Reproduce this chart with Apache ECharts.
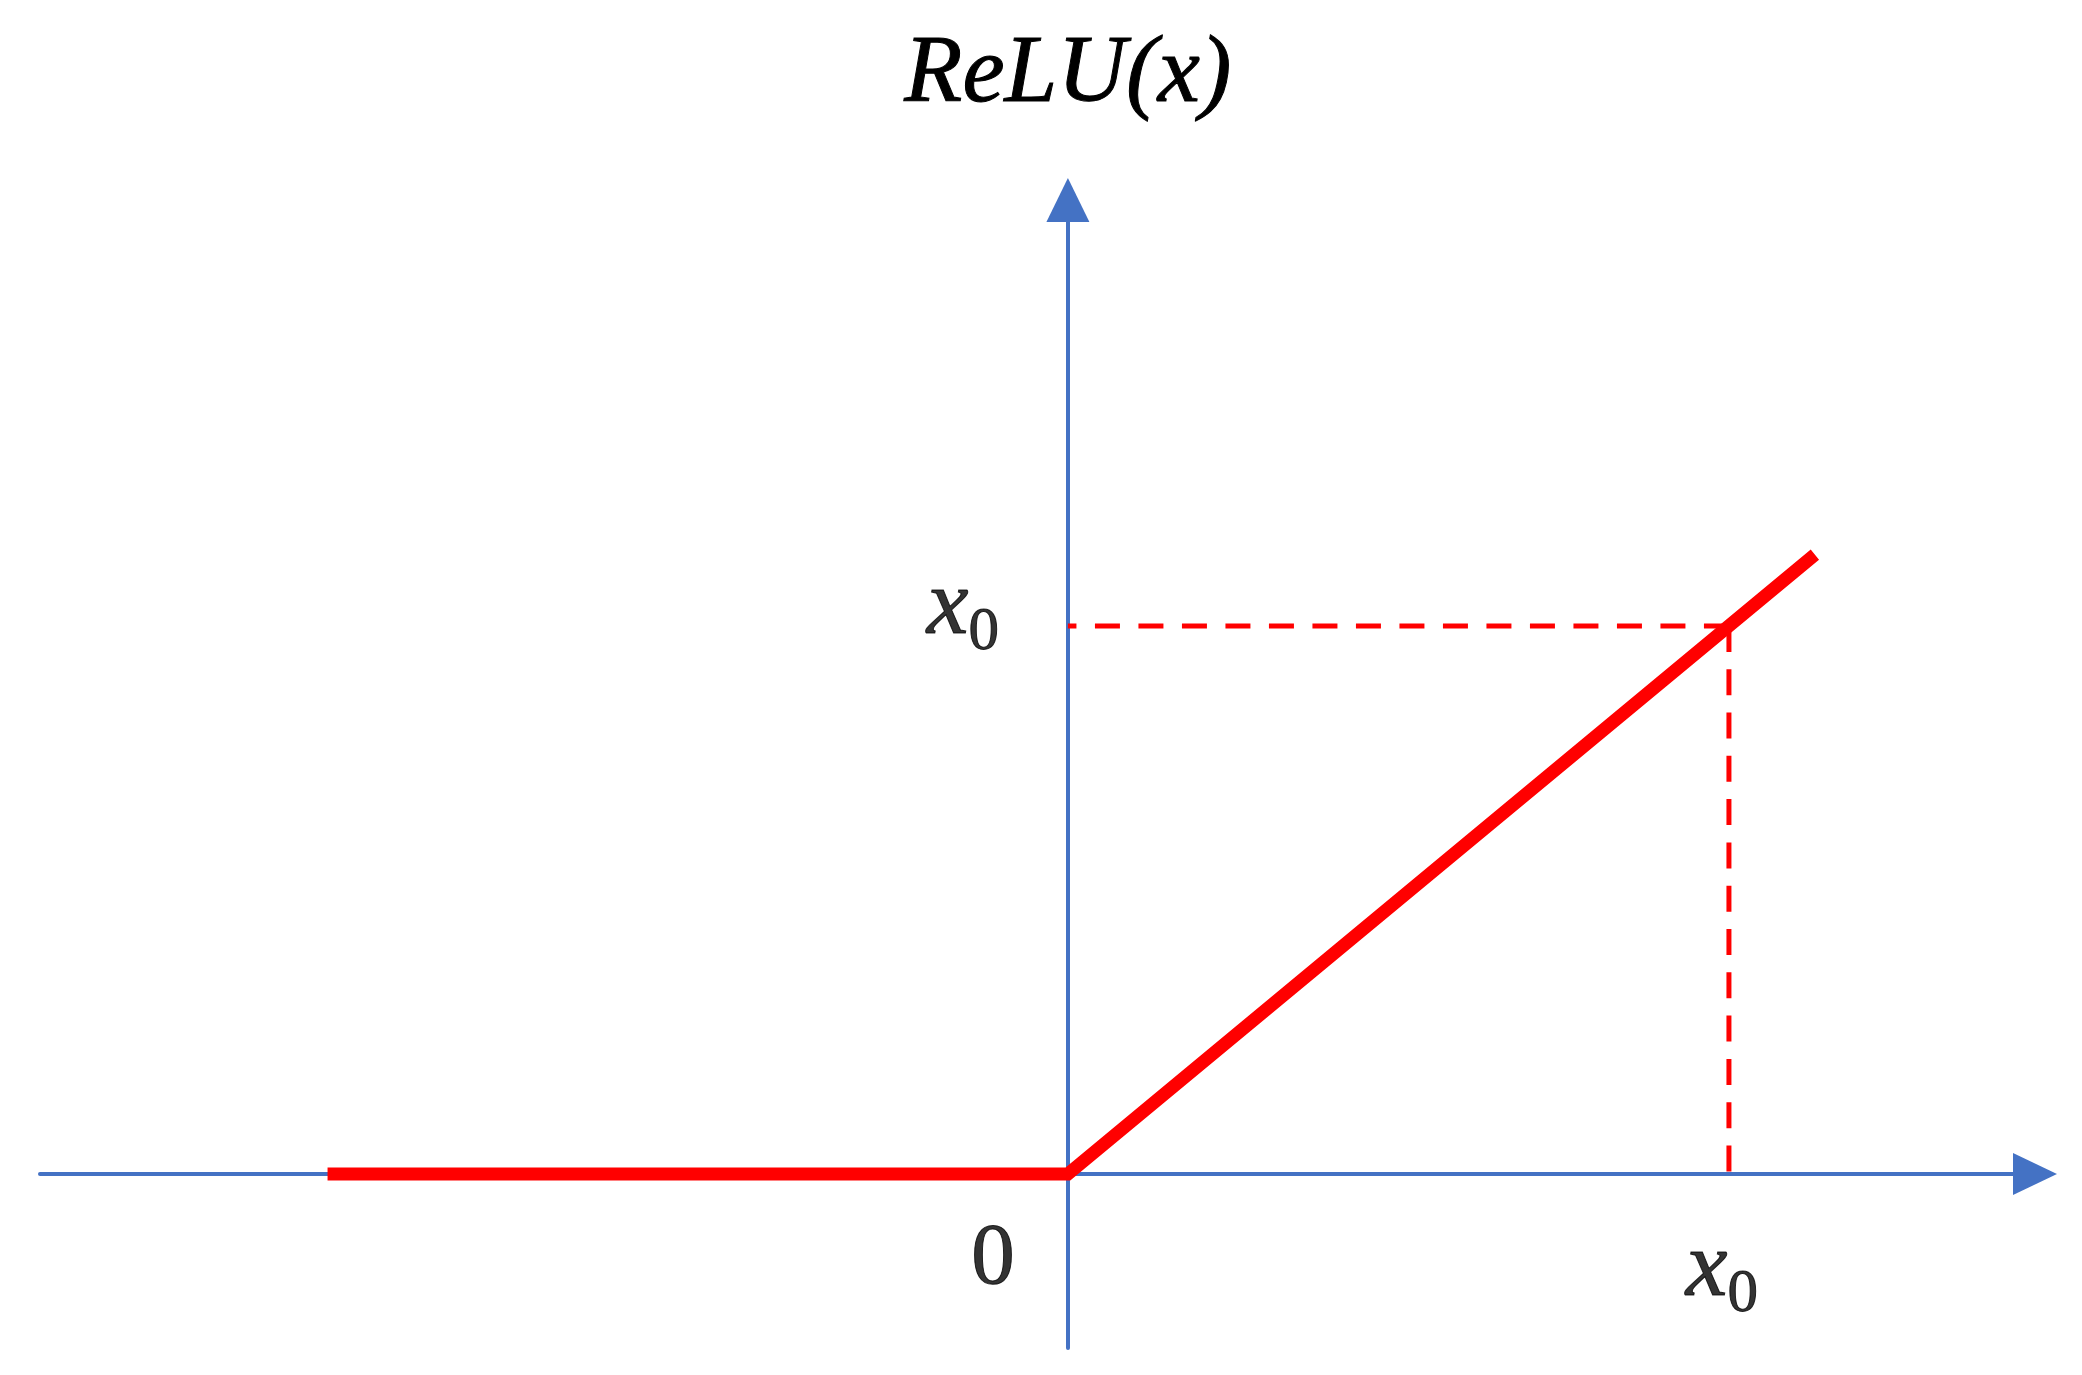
<!DOCTYPE html>
<html>
<head>
<meta charset="utf-8">
<script src="https://cdn.jsdelivr.net/npm/echarts@6/dist/echarts.min.js"></script>
<style>
html,body{margin:0;padding:0;background:#fff;}
#chart{width:2082px;height:1375px;}
</style>
</head>
<body>
<div id="chart"></div>
<script>
// ---- data ----
const x0 = 1;                         // marked input value
const reluX = [-1.12, 0, 1.13];       // ReLU polyline x
const reluY = [0, 0, 1.13];           // ReLU polyline y
const guideHX = [x0, 0];              // horizontal dashed guide (x)
const guideHY = [x0, x0];
const guideVX = [x0, x0];             // vertical dashed guide
const guideVY = [x0, 0];
const xRange = [-1.555, 1.463];
const yRange = [-0.3175, 1.777];
const yName = 'ReLU(x)';

const BLUE = '#4472C4';
const RED = '#FF0000';
const SERIF = 'Liberation Serif';
const INK = {color: '#000', textBorderColor: '#000', textBorderWidth: 1};

const zip = (a, b) => a.map((v, i) => [v, b[i]]);

const richX0 = {
  i: Object.assign({fontFamily: SERIF, fontStyle: 'italic', fontSize: 94, lineHeight: 92, verticalAlign: 'top'}, INK),
  s: Object.assign({fontFamily: SERIF, fontSize: 61, lineHeight: 144, verticalAlign: 'middle'}, INK)
};

const chart = echarts.init(document.getElementById('chart'), null, {renderer: 'canvas'});
chart.setOption({
  backgroundColor: '#fff',
  animation: false,
  grid: {left: 40, right: 47, top: 200, bottom: 27},
  xAxis: {
    type: 'value', min: xRange[0], max: xRange[1],
    axisLine: {show: true, onZero: true, symbol: ['none', 'triangle'], symbolSize: [42, 44],
      lineStyle: {color: BLUE, width: 4}},
    axisTick: {show: false}, axisLabel: {show: false}, splitLine: {show: false}
  },
  yAxis: {
    type: 'value', min: yRange[0], max: yRange[1],
    name: yName, nameLocation: 'end', nameGap: 78,
    nameTextStyle: Object.assign({fontFamily: SERIF, fontStyle: 'italic', fontSize: 95, lineHeight: 92}, INK),
    axisLine: {show: true, onZero: true, symbol: ['none', 'triangle'], symbolSize: [43, 44],
      lineStyle: {color: BLUE, width: 4}},
    axisTick: {show: false}, axisLabel: {show: false}, splitLine: {show: false}
  },
  series: [
    {
      type: 'line', data: zip(guideHX, guideHY), symbol: 'none', z: 3,
      lineStyle: {color: RED, width: 5, type: [25, 18.5]}
    },
    {
      type: 'line', data: zip(guideVX, guideVY), symbol: 'none', z: 3,
      lineStyle: {color: RED, width: 5, type: [26, 17.3]}
    },
    {
      type: 'line', data: zip(reluX, reluY), symbol: 'none', z: 4,
      lineStyle: {color: RED, width: 13, cap: 'butt', join: 'miter'}
    },
    {
      type: 'scatter', symbolSize: 1, itemStyle: {color: 'transparent'}, z: 5,
      label: {show: true, position: 'inside'},
      data: [
        {value: [0, 0], label: Object.assign({formatter: '0', offset: [-75, 86], fontFamily: SERIF, fontSize: 87, lineHeight: 87}, INK)},
        {value: [x0, 0], label: {formatter: '{i|x}{s|0}', offset: [-7, 121], rich: richX0}},
        {value: [0, x0], label: {formatter: '{i|x}{s|0}', offset: [-105, 7], rich: richX0}}
      ]
    }
  ]
});
</script>
</body>
</html>
